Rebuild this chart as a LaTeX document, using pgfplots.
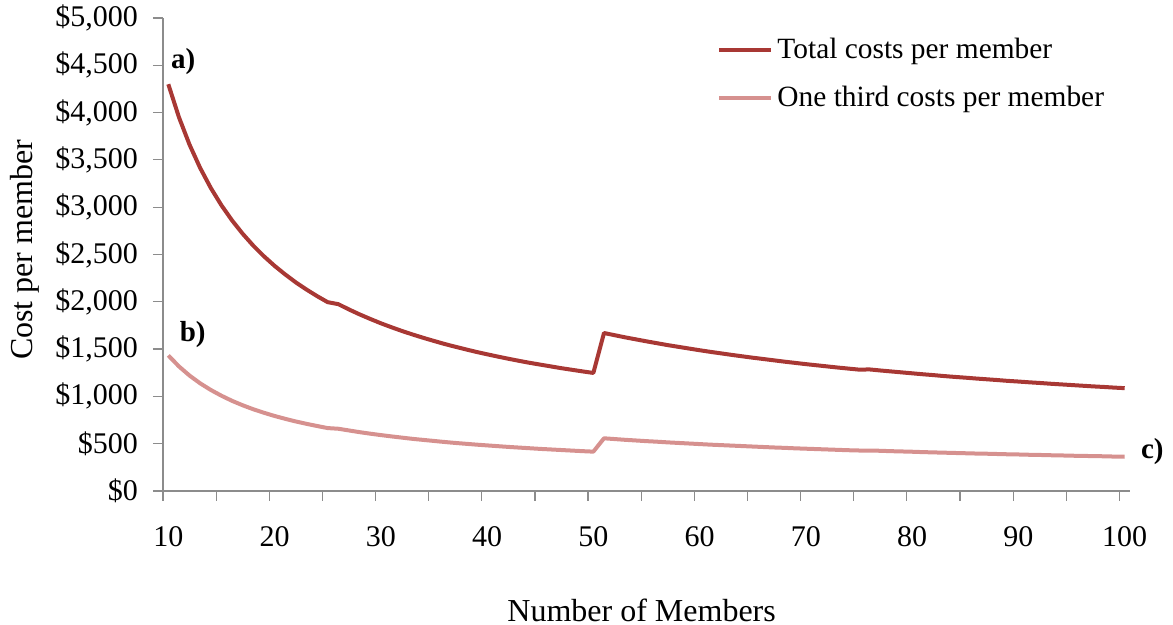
\documentclass[border=0pt]{standalone}
\usepackage{pgfplots}
\usepackage{pgfplotstable}
\pgfplotsset{compat=1.18}
\usepackage{fontspec}
\setmainfont{Liberation Serif}
\definecolor{darkred}{RGB}{168,56,52}
\definecolor{lightred}{RGB}{214,145,143}
\definecolor{axgray}{RGB}{140,140,140}
\pgfplotstableread{
N total third
10 4300 1433
11 3951 1317
12 3660 1220
13 3414 1138
14 3203 1068
15 3020 1007
16 2860 953
17 2719 906
18 2593 864
19 2481 827
20 2380 793
21 2289 763
22 2205 735
23 2130 710
24 2060 687
25 1996 665
26 1975 658
27 1919 640
28 1867 622
29 1819 606
30 1773 591
31 1731 577
32 1691 564
33 1654 551
34 1619 540
35 1586 529
36 1554 518
37 1525 508
38 1497 499
39 1470 490
40 1445 482
41 1421 474
42 1398 466
43 1376 459
44 1355 452
45 1336 445
46 1317 439
47 1298 433
48 1281 427
49 1264 421
50 1248 416
51 1670 557
52 1647 549
53 1624 541
54 1603 534
55 1582 527
56 1562 521
57 1542 514
58 1524 508
59 1506 502
60 1488 496
61 1471 490
62 1455 485
63 1439 480
64 1424 475
65 1409 470
66 1395 465
67 1381 460
68 1367 456
69 1354 451
70 1341 447
71 1329 443
72 1317 439
73 1305 435
74 1294 431
75 1283 428
76 1285 428
77 1274 425
78 1264 421
79 1254 418
80 1244 415
81 1234 411
82 1225 408
83 1215 405
84 1206 402
85 1198 399
86 1189 396
87 1181 394
88 1173 391
89 1164 388
90 1157 386
91 1149 383
92 1142 381
93 1134 378
94 1127 376
95 1120 373
96 1113 371
97 1106 369
98 1100 367
99 1093 364
100 1087 362
}\datatable
\begin{document}
\begin{tikzpicture}
\begin{axis}[
  name=ax,
  scale only axis,
  width=483.5pt, height=236.5pt,
  xmin=9.5, xmax=100.5,
  ymin=0, ymax=5000,
  axis x line*=bottom,
  axis y line*=left,
  axis line style={axgray, line width=0.8pt},
  clip=false,
  xtick={10,20,...,100},
  minor xtick={9.5,14.5,...,99.5},
  major x tick style={draw=none},
  minor x tick style={axgray, line width=0.6pt},
  minor tick length=5pt,
  ytick={0,500,...,5000},
  y tick style={axgray, line width=0.6pt},
  major tick length=5pt,
  tick align=outside,
  tick label style={font=\fontsize{15}{17}\selectfont, black},
  xticklabel style={yshift=-9pt},
  yticklabel style={xshift=-4pt},
  /pgf/number format/assume math mode=true,
  yticklabel={\$\pgfmathprintnumber[1000 sep={,}]{\tick}},
  scaled y ticks=false,
  xlabel={Number of Members},
  ylabel={Cost per member},
  label style={font=\fontsize{16}{18}\selectfont},
  xlabel style={at={(axis description cs:0.495,-0.2516)}, anchor=center},
  ylabel style={at={(axis description cs:-0.1427,0.51)}, anchor=center},
  legend style={draw=none, fill=none, at={(axis description cs:0.573,0.967)}, anchor=north west,
    font=\fontsize{14.7}{17}\selectfont, row sep=8.5pt, inner sep=0pt},
  legend cell align=left,
  legend image code/.code={\draw[#1] (0pt,0pt) -- (26pt,0pt);},
]
\addplot[darkred, line width=2pt, line join=round] table[x=N, y=total] {\datatable};
\addlegendentry{Total costs per member}
\addplot[lightred, line width=2pt, line join=round] table[x=N, y=third] {\datatable};
\addlegendentry{One third costs per member}
\node[font=\bfseries\fontsize{14.5}{16}\selectfont] at (axis cs:11.4,4535) {a)};
\node[font=\bfseries\fontsize{14.5}{16}\selectfont] at (axis cs:12.3,1650) {b)};
\node[font=\bfseries\fontsize{14.5}{16}\selectfont] at (axis cs:102.6,412) {c)};
\end{axis}
\pgfresetboundingbox
\path[use as bounding box] (ax.south west) ++(-81.5pt,-67pt) rectangle ++(586.5pt,312.5pt);
\end{tikzpicture}
\end{document}
